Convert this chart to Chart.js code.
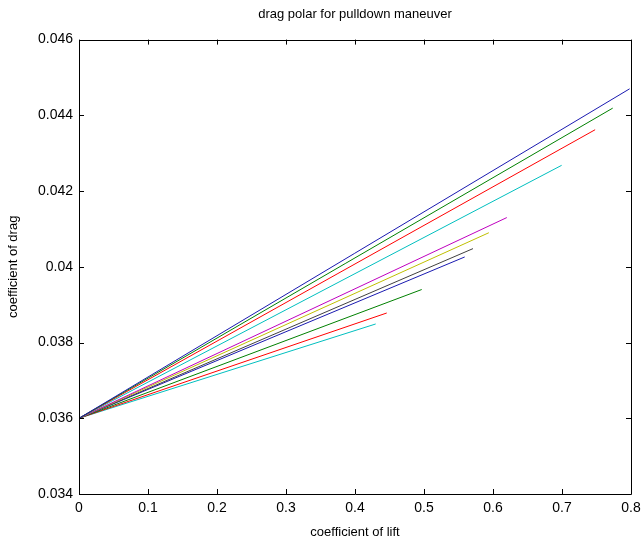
<!DOCTYPE html>
<html>
<head>
<meta charset="utf-8">
<script src="https://cdn.jsdelivr.net/npm/chart.js@4/dist/chart.umd.min.js"></script>
<style>
  html, body { margin: 0; padding: 0; background: #fff; }
  #wrap { width: 644px; height: 540px; }
</style>
</head>
<body>
<div id="wrap"><canvas id="polar"></canvas></div>
<script>
// end points of each run (all start at CL = 0, CD = 0.036)
var startLift = 0;
var startDrag = 0.036;
var endLift = [0.798, 0.7735, 0.748, 0.6995, 0.620, 0.594, 0.571, 0.559, 0.4967, 0.446, 0.430];
var endDrag = [0.0447, 0.04419, 0.04362, 0.04268, 0.0413, 0.0409, 0.04048, 0.04026, 0.0394, 0.03878, 0.03849];
// matlab style colour order
var lineColors = ["#1a1ab0", "#008000", "#ff0000", "#00bfbf", "#bf00bf", "#bfbf00", "#404040"];
var xTicks = [0, 0.1, 0.2, 0.3, 0.4, 0.5, 0.6, 0.7, 0.8];
var yTicks = [0.034, 0.036, 0.038, 0.04, 0.042, 0.044, 0.046];

var fontFamily = "'Liberation Sans', Arial, sans-serif";

var datasets = [];
for (var i = 0; i < endLift.length; i++) {
    datasets.push({
        label: "run " + (i + 1),
        data: [{ x: startLift, y: startDrag }, { x: endLift[i], y: endDrag[i] }],
        borderColor: lineColors[i % lineColors.length],
        borderWidth: 1,
        pointRadius: 0,
        fill: false,
        tension: 0
    });
}

// box round the plot and inward ticks on all four sides
var matlabBox = {
    id: "matlabBox",
    afterDraw: function (chart) {
        var ctx = chart.ctx;
        var a = chart.chartArea;
        var xs = chart.scales.x, ys = chart.scales.y;
        var len = 5;
        ctx.save();
        ctx.strokeStyle = "#000";
        ctx.lineWidth = 1;
        ctx.beginPath();
        ctx.rect(Math.round(a.left) + 0.5, Math.round(a.top) + 0.5,
                 Math.round(a.right - a.left), Math.round(a.bottom - a.top));
        xTicks.forEach(function (v) {
            var px = Math.round(xs.getPixelForValue(v)) + 0.5;
            ctx.moveTo(px, a.bottom); ctx.lineTo(px, a.bottom - len);
            ctx.moveTo(px, a.top); ctx.lineTo(px, a.top + len);
        });
        yTicks.forEach(function (v) {
            var py = Math.round(ys.getPixelForValue(v)) + 0.5;
            ctx.moveTo(a.left, py); ctx.lineTo(a.left + len, py);
            ctx.moveTo(a.right, py); ctx.lineTo(a.right - len, py);
        });
        ctx.stroke();
        ctx.restore();
    }
};

new Chart(document.getElementById("polar"), {
    type: "line",
    data: { datasets: datasets },
    options: {
        responsive: true,
        maintainAspectRatio: false,
        animation: false,
        layout: { padding: { left: 0, right: 13, top: 0, bottom: 0 } },
        plugins: {
            legend: { display: false },
            tooltip: { enabled: false },
            title: {
                display: true,
                text: "drag polar for pulldown maneuver",
                fullSize: false,
                color: "#000",
                font: { family: fontFamily, size: 13, weight: "normal" },
                padding: { top: 7, bottom: 17 }
            }
        },
        scales: {
            x: {
                type: "linear",
                min: 0,
                max: 0.8,
                grid: { display: false, drawTicks: false },
                border: { display: false },
                afterBuildTicks: function (s) { s.ticks = xTicks.map(function (v) { return { value: v }; }); },
                afterFit: function (s) { s.height = 46; s.paddingLeft = 0; s.paddingRight = 0; },
                ticks: {
                    color: "#000",
                    padding: 6,
                    maxRotation: 0,
                    font: { family: fontFamily, size: 14 },
                    callback: function (v) { return String(Number(v.toFixed(1))); }
                },
                title: {
                    display: true,
                    text: "coefficient of lift",
                    color: "#000",
                    padding: { top: 1, bottom: 0 },
                    font: { family: fontFamily, size: 13 }
                }
            },
            y: {
                type: "linear",
                min: 0.034,
                max: 0.046,
                grid: { display: false, drawTicks: false },
                border: { display: false },
                afterBuildTicks: function (s) { s.ticks = yTicks.map(function (v) { return { value: v }; }); },
                afterFit: function (s) { s.width = 79; s.paddingTop = 0; s.paddingBottom = 0; },
                ticks: {
                    color: "#000",
                    padding: 6,
                    font: { family: fontFamily, size: 14 },
                    callback: function (v) { return String(Number(v.toFixed(3))); }
                },
                title: {
                    display: true,
                    text: "coefficient of drag",
                    color: "#000",
                    padding: { top: 6, bottom: 0 },
                    font: { family: fontFamily, size: 13 }
                }
            }
        }
    },
    plugins: [matlabBox]
});
</script>
</body>
</html>
